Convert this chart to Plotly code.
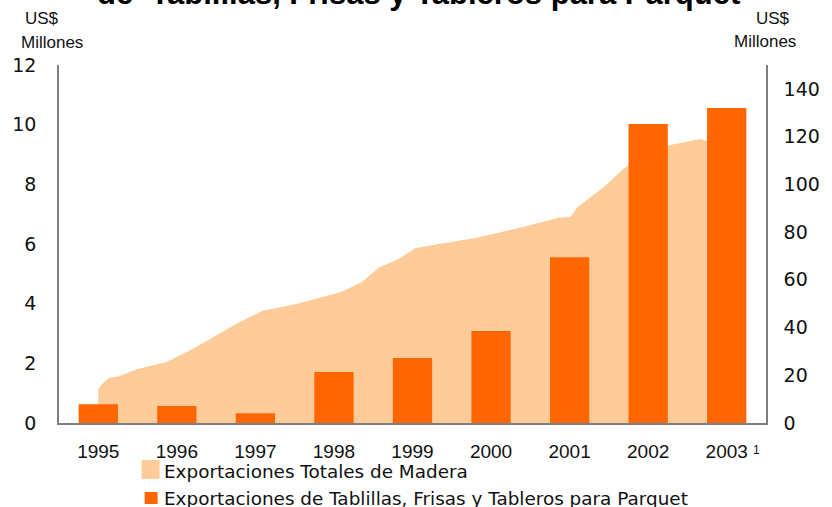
import plotly.graph_objects as go

# ---- data ----
years = [1995, 1996, 1997, 1998, 1999, 2000, 2001, 2002, 2003]
year_labels = ["1995", "1996", "1997", "1998", "1999", "2000", "2001", "2002", "2003"]
parquet_exports = [0.63, 0.57, 0.33, 1.71, 2.18, 3.08, 5.56, 10.02, 10.56]  # left axis, US$ millones

total_t = [1995.0, 1995.05, 1995.13, 1995.25, 1995.5, 1995.87, 1996.2, 1996.46, 1996.8,
           1997.09, 1997.52, 1997.81, 1998.1, 1998.35, 1998.57, 1998.82, 1999.04, 1999.42,
           1999.8, 2000.13, 2000.47, 2000.85, 2001.01, 2001.1, 2001.44, 2001.7, 2001.99,
           2002.28, 2002.66, 2002.75, 2003.0]
total_exports = [14.2, 16.3, 18.9, 19.5, 22.6, 25.6, 31.0, 36.0, 42.3,
                 47.0, 49.9, 52.4, 55.0, 59.0, 65.0, 68.7, 73.3, 75.4,
                 77.5, 80.0, 82.6, 86.0, 86.3, 90.5, 99.0, 106.9, 112.0,
                 116.5, 119.0, 118.2, 119.0]  # right axis, US$ millones

left_ticks = [0, 2, 4, 6, 8, 10, 12]
right_ticks = [0, 20, 40, 60, 80, 100, 120, 140]

legend_names = ["Exportaciones Totales de Madera",
                "Exportaciones de Tablillas, Frisas y Tableros para Parquet"]
title_text = "de  Tablillas, Frisas y Tableros para Parquet"

# ---- geometry helpers ----
W, H = 832, 507
L, R, T, B = 59, 769, 65, 423

def px(x):
    return (x - L) / (R - L)

def py(y):
    return (B - y) / (B - T)

AREA = "#FFCC99"
BAR = "#FF6600"
AX = "#7f7f7f"
TXT = "#111111"

fig = go.Figure()
fig.add_trace(go.Scatter(
    x=total_t, y=total_exports, mode="lines", fill="tozeroy",
    fillcolor=AREA, line=dict(width=0, color=AREA), yaxis="y",
    name=legend_names[0], showlegend=False, hoverinfo="skip"))
fig.add_trace(go.Bar(
    x=years, y=parquet_exports, width=0.5, marker=dict(color=BAR, line=dict(width=0)),
    yaxis="y2", name=legend_names[1], showlegend=False))

fig.update_layout(
    width=W, height=H,
    margin=dict(l=L, r=W - R, t=T, b=H - B, pad=0),
    paper_bgcolor="white", plot_bgcolor="white",
    showlegend=False,
    xaxis=dict(range=[1994.5, 2003.5], tickvals=years, ticktext=year_labels,
               showgrid=False, zeroline=False, showline=True, linecolor=AX, linewidth=1.5,
               ticks="", ticklabelstandoff=10,
               tickfont=dict(family="Liberation Sans", size=19, color=TXT)),
    yaxis=dict(range=[0, 150], tickvals=right_ticks, side="right",
               showgrid=False, zeroline=False, showline=True, linecolor=AX, linewidth=1.5,
               ticks="", ticklabelstandoff=12,
               tickfont=dict(family="DejaVu Sans", size=19, color=TXT)),
    yaxis2=dict(range=[0, 12], tickvals=left_ticks, side="left", overlaying="y",
                showgrid=False, zeroline=False, showline=True, linecolor=AX, linewidth=1.5,
                ticks="", ticklabelstandoff=17,
                tickfont=dict(family="DejaVu Sans", size=19, color=TXT)),
)

ann = []
# title (cut at the top of the page, as in the reference)
ann.append(dict(text="<b>" + title_text + "</b>", x=px(420), y=py(-7), xref="paper", yref="paper",
                xanchor="center", yanchor="middle", showarrow=False,
                font=dict(family="Liberation Sans", size=31, color="#000")))
# unit labels
UNIT_FONT = "Liberation Sans Narrow, Liberation Sans"
for cx, cy, t in [(42, 19, "US$"), (52, 42, "Millones"), (776, 19, "US$"), (768, 41, "Millones")]:
    ann.append(dict(text=t, x=px(cx), y=py(cy), xref="paper", yref="paper",
                    xanchor="center", yanchor="middle", showarrow=False,
                    font=dict(family=UNIT_FONT, size=17, color=TXT)))
# footnote mark on 2003
ann.append(dict(text="1", x=px(759), y=py(450), xref="paper", yref="paper",
                xanchor="center", yanchor="middle", showarrow=False,
                font=dict(family="Liberation Sans", size=12, color=TXT)))
# manual legend
ann.append(dict(text=legend_names[0], x=px(162), y=py(471), xref="paper", yref="paper",
                xanchor="left", yanchor="middle", showarrow=False,
                font=dict(family="DejaVu Sans", size=18.4, color=TXT)))
ann.append(dict(text=legend_names[1], x=px(162), y=py(498), xref="paper", yref="paper",
                xanchor="left", yanchor="middle", showarrow=False,
                font=dict(family="DejaVu Sans", size=18.4, color=TXT)))

shapes = [
    dict(type="rect", xref="paper", yref="paper", x0=px(142), x1=px(160), y0=py(479), y1=py(460),
         fillcolor=AREA, line=dict(width=0)),
    dict(type="rect", xref="paper", yref="paper", x0=px(145), x1=px(158), y0=py(504), y1=py(492),
         fillcolor=BAR, line=dict(width=0)),
]
fig.update_layout(annotations=ann, shapes=shapes)

fig.write_html("out.html", config={"displayModeBar": False},
               post_script="document.body.style.margin='0px';document.body.style.overflow='hidden';")
